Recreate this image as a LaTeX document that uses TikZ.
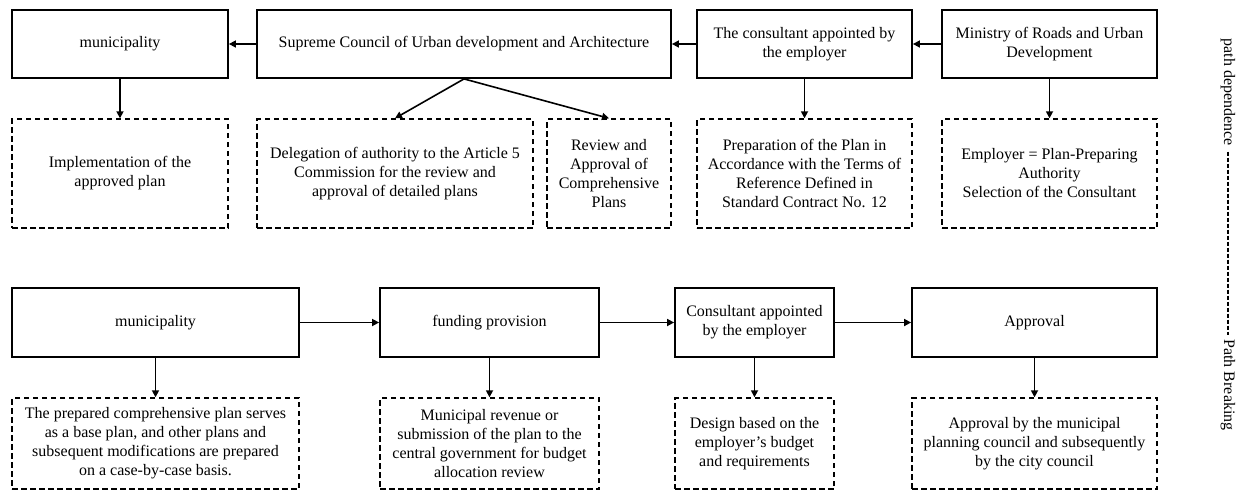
\documentclass[tikz,border=0pt]{standalone}
\usepackage{fontspec}
\setmainfont{Liberation Serif}
\usetikzlibrary{arrows.meta}
\begin{document}
\begin{tikzpicture}[x=1pt,y=-1pt,
  every node/.style={font=\fontsize{16}{19}\selectfont, align=center, inner sep=0pt},
  solidbox/.style={draw, line width=1.8pt},
  dashbox/.style={draw, line width=1.4pt, dash pattern=on 5.5pt off 3.5pt},
  arr/.style={line width=1.6pt, -{Triangle[length=7pt,width=7pt]}},
  sidedash/.style={line width=1.3pt, dash pattern=on 4pt off 2pt}
]
\useasboundingbox (0,0) rectangle (1241,491);
% top row
\node[solidbox, minimum width=216pt, minimum height=68pt] (m1) at (120,44) {municipality};
\node[solidbox, minimum width=414pt, minimum height=68pt] (sc) at (464,44) {Supreme Council of Urban development and Architecture};
\node[solidbox, minimum width=215pt, minimum height=68pt] (c1) at (804.5,44) {The consultant appointed by\\the employer};
\node[solidbox, minimum width=215pt, minimum height=68pt] (mr) at (1049.5,44) {Ministry of Roads and Urban\\Development};
\node[dashbox, minimum width=216pt, minimum height=109pt] (im) at (120,173.5) {Implementation of the\\approved plan};
\node[dashbox, minimum width=276pt, minimum height=109pt] (dl) at (395,173.5) {Delegation of authority to the Article 5\\Commission for the review and\\approval of detailed plans};
\node[dashbox, minimum width=124pt, minimum height=109pt] (rv) at (609,173.5) {Review and\\Approval of\\Comprehensive\\Plans};
\node[dashbox, minimum width=215pt, minimum height=109pt] (pp) at (804.5,173.5) {Preparation of the Plan in\\Accordance with the Terms of\\Reference Defined in\\Standard Contract No. 12};
\node[dashbox, minimum width=215pt, minimum height=109pt] (em) at (1049.5,173.5) {Employer = Plan-Preparing\\Authority\\Selection of the Consultant};
% bottom row
\node[solidbox, minimum width=287pt, minimum height=69pt] (m2) at (155.5,322.5) {municipality};
\node[solidbox, minimum width=219pt, minimum height=69pt] (fp) at (489.5,322.5) {funding provision};
\node[solidbox, minimum width=159pt, minimum height=69pt] (c2) at (754.5,322.5) {Consultant appointed\\by the employer};
\node[solidbox, minimum width=245pt, minimum height=69pt] (ap) at (1034.5,322.5) {Approval};
\node[dashbox, minimum width=287pt, minimum height=91pt] (bp) at (155.5,443.5) {The prepared comprehensive plan serves\\as a base plan, and other plans and\\subsequent modifications are prepared\\on a case-by-case basis.};
\node[dashbox, minimum width=219pt, minimum height=91pt] (mv) at (489.5,443.5) {Municipal revenue or\\submission of the plan to the\\central government for budget\\allocation review};
\node[dashbox, minimum width=159pt, minimum height=91pt] (ds) at (754.5,443.5) {Design based on the\\employer’s budget\\and requirements};
\node[dashbox, minimum width=245pt, minimum height=91pt] (ab) at (1034.5,443.5) {Approval by the municipal\\planning council and subsequently\\by the city council};
% arrows top
\draw[arr] (sc.west) -- (m1.east);
\draw[arr] (c1.west) -- (sc.east);
\draw[arr] (mr.west) -- (c1.east);
\draw[arr] (m1.south) -- (im.north);
\draw[arr] (sc.south) -- (dl.north);
\draw[arr] (sc.south) -- (rv.north);
\draw[arr] (c1.south) -- (pp.north);
\draw[arr] (mr.south) -- (em.north);
% arrows bottom
\draw[arr] (m2.east) -- (fp.west);
\draw[arr] (fp.east) -- (c2.west);
\draw[arr] (c2.east) -- (ap.west);
\draw[arr] (m2.south) -- (bp.north);
\draw[arr] (fp.south) -- (mv.north);
\draw[arr] (c2.south) -- (ds.north);
\draw[arr] (ap.south) -- (ab.north);
% side
\node[rotate=-90, inner sep=6pt] (pd) at (1228,92) {path dependence};
\node[rotate=-90, inner sep=4pt] (pb) at (1228,385) {Path Breaking};
\draw[sidedash] (pd.east) -- (pb.west);
\end{tikzpicture}
\end{document}
